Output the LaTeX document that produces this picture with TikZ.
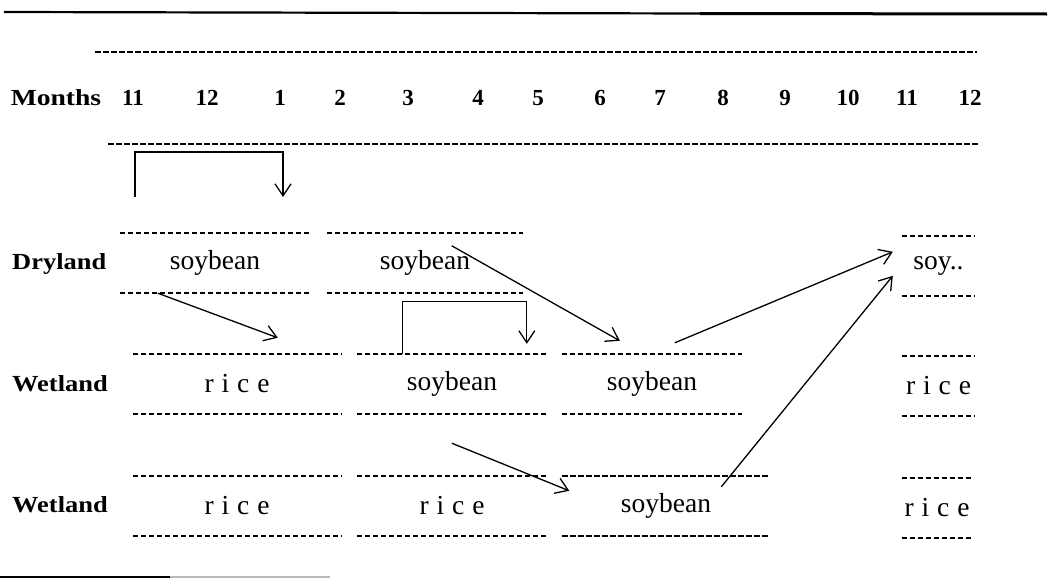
\documentclass[tikz,border=0pt]{standalone}
\usepackage{fontspec}
\setmainfont{Liberation Serif}
\newfontfamily\cropfont[WordSpace=1.15]{Liberation Serif}
\usetikzlibrary{arrows.meta,calc}
\begin{document}
\begin{tikzpicture}[x=1pt,y=-1pt,
  rule/.style={line width=1.6pt, dash pattern=on 5.5pt off 2.5pt},
  hd/.style={font=\bfseries\fontsize{23}{26}\selectfont, inner sep=0},
  rowlab/.style={hd, xscale=1.15, anchor=west},
  cell/.style={minimum width=#1, minimum height=60, inner sep=0,
    font=\cropfont\fontsize{27.5}{30}\selectfont,
    append after command={
      (\tikzlastnode.north west) edge[rule] (\tikzlastnode.north east)
      (\tikzlastnode.south west) edge[rule] (\tikzlastnode.south east)}},
  arr/.style={line width=1.3pt, -{Straight Barb[length=12pt,width=16pt,line width=1.3pt]}},
]
\useasboundingbox (0,0) rectangle (1050,581);

% outer rules of the table
\draw[line width=2.2pt] (4,12) -- (700,13.5);
\draw[line width=3pt] (700,13.5) -- (1047,14);
\draw[line width=2.5pt] (0,577) -- (170,577);
\draw[line width=1.5pt, gray!55] (170,577) -- (330,577);

% month header
\draw[rule] (95,52) -- (977,52);
\draw[rule] (108,144) -- (978,144);
\node[hd, xscale=1.2] (months) at (56,98) {Months};
\foreach \x/\t [count=\i] in {133/11,207/12,280/1,340/2,408/3,478/4,538/5,
    600/6,660/7,723/8,785/9,848/10,907/11,970/12}
  \node[hd] (m\i) at (\x,98) {\t};

% row labels
\node[rowlab] (dry) at (12,264) {Dryland};
\node[rowlab] (wet1) at (12,384) {Wetland};
\node[rowlab] (wet2) at (12,505) {Wetland};

% dryland row
\node[cell=190] (dA) at (215,263) {soybean};
\node[cell=196] (dB) at (425,263) {soybean};
\node[cell=73]  (dR) at (938.5,266) {soy..};

% first wetland row
\node[cell=208] (w1A) at (237,384) {r i c e};
\node[cell=190] (w1B) at (452,384) {soybean};
\node[cell=180] (w1C) at (652,384) {soybean};
\node[cell=73]  (w1R) at (938.5,386) {r i c e};

% second wetland row
\node[cell=208] (w2A) at (237,506) {r i c e};
\node[cell=190] (w2B) at (452,506) {r i c e};
\node[cell=207] (w2C) at (666,506) {soybean};
\node[cell=70]  (w2R) at (937,508) {r i c e};

% rotation brackets
\coordinate (b1a) at (135,197);
\coordinate (b1b) at (283,197);
\draw[arr] (b1a) -- (135,152) -| (b1b);

\coordinate (b2a) at ($(w1B.north west)+(46,0)$);
\coordinate (b2b) at ($(w1B.north west)+(170,-10)$);
\draw[arr] (b2a) -- ($(w1B.north west)+(46,-52)$) -| (b2b);

% transitions between crops
\draw[arr] ($(dA.south west)+(38,0)$) -- ($(w1A.north west)+(145,-16)$);
\draw[arr] ($(dB.north west)+(125,13)$) -- ($(w1C.north west)+(58,-13)$);
\draw[arr] ($(w1C.north west)+(113,-11)$) -- ($(dR.north west)+(-9,16)$);
\draw[arr] ($(w1B.south west)+(95,29)$) -- ($(w2C.north west)+(7,15)$);
\draw[arr] ($(w2C.north west)+(159,11)$) -- ($(dR.north west)+(-9,40)$);
\end{tikzpicture}
\end{document}
